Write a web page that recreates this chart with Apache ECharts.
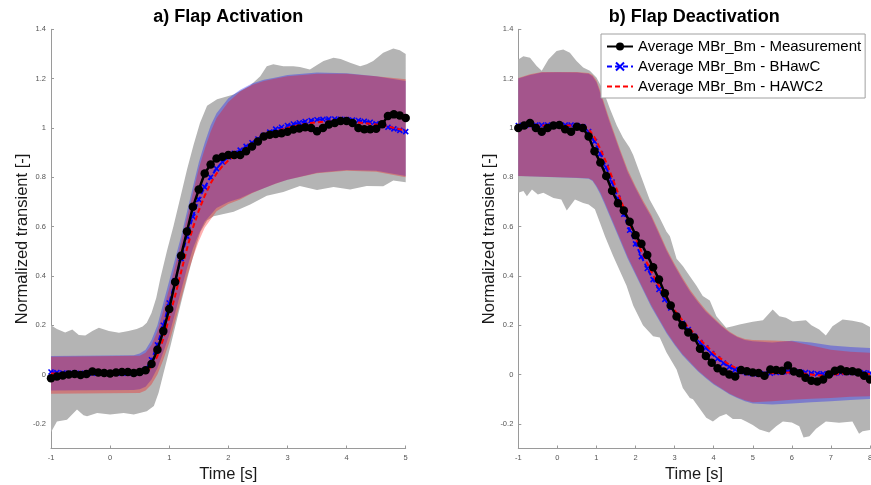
<!DOCTYPE html>
<html>
<head>
<meta charset="utf-8">
<script src="https://cdn.jsdelivr.net/npm/echarts@6/dist/echarts.min.js"></script>
<style>html,body{margin:0;padding:0;background:#fff}#c{width:871px;height:485px}</style>
</head>
<body>
<div id="c"></div>
<script>
// ---------- DATA ----------
const titles = ['a) Flap Activation', 'b) Flap Deactivation'];
const legendNames = ['Average MBr_Bm - Measurement', 'Average MBr_Bm - BHawC', 'Average MBr_Bm - HAWC2'];
const yTicks = [-0.2, 0, 0.2, 0.4, 0.6, 0.8, 1, 1.2, 1.4];

// a) activation: time grid (s)
const timeA = [-1.0,-0.9,-0.8,-0.7,-0.6,-0.5,-0.4,-0.3,-0.2,-0.1,0.0,0.1,0.2,0.3,0.4,0.5,0.6,0.7,0.8,0.9,1.0,1.1,1.2,1.3,1.4,1.5,1.6,1.7,1.8,1.9,2.0,2.1,2.2,2.3,2.4,2.5,2.6,2.7,2.8,2.9,3.0,3.1,3.2,3.3,3.4,3.5,3.6,3.7,3.8,3.9,4.0,4.1,4.2,4.3,4.4,4.5,4.6,4.7,4.8,4.9,5.0];
const measA = [-0.015,-0.008,-0.004,0.0,0.002,-0.002,0.002,0.012,0.008,0.006,0.004,0.008,0.01,0.01,0.006,0.01,0.017,0.043,0.1,0.176,0.266,0.375,0.482,0.58,0.68,0.75,0.815,0.852,0.876,0.883,0.89,0.89,0.89,0.905,0.925,0.945,0.965,0.972,0.975,0.978,0.985,0.994,0.998,1.003,1.0,0.987,1.0,1.014,1.02,1.028,1.028,1.02,1.0,0.995,0.995,0.997,1.015,1.048,1.055,1.05,1.04];
const bhawcA = [0.01,0.008,0.006,0.005,0.005,0.005,0.005,0.005,0.005,0.005,0.005,0.005,0.005,0.005,0.005,0.008,0.02,0.06,0.12,0.2,0.29,0.38,0.47,0.56,0.64,0.71,0.76,0.8,0.835,0.862,0.882,0.897,0.91,0.925,0.94,0.955,0.97,0.983,0.995,1.003,1.01,1.016,1.021,1.026,1.03,1.033,1.035,1.036,1.036,1.035,1.034,1.032,1.03,1.027,1.023,1.017,1.01,1.003,0.996,0.99,0.985];
const hawc2A = [0.004,0.004,0.004,0.004,0.004,0.004,0.004,0.004,0.004,0.004,0.004,0.004,0.004,0.004,0.004,0.005,0.01,0.03,0.075,0.145,0.23,0.32,0.415,0.51,0.595,0.665,0.725,0.775,0.815,0.845,0.868,0.885,0.9,0.915,0.93,0.945,0.96,0.973,0.985,0.994,1.0,1.006,1.011,1.016,1.02,1.023,1.025,1.026,1.026,1.026,1.025,1.024,1.022,1.02,1.017,1.014,1.01,1.006,1.0,0.995,0.99];
// std bands [t, value]
const measUpA = [[-1,0.2],[-0.9,0.185],[-0.76,0.17],[-0.64,0.183],[-0.53,0.16],[-0.42,0.158],[-0.3,0.176],[-0.19,0.19],[-0.02,0.176],[0.15,0.169],[0.31,0.176],[0.45,0.185],[0.55,0.195],[0.62,0.21],[0.7,0.25],[0.78,0.31],[0.85,0.39],[0.96,0.5],[1.07,0.6],[1.19,0.72],[1.3,0.83],[1.41,0.93],[1.52,1.02],[1.64,1.09],[1.81,1.116],[2.09,1.136],[2.37,1.172],[2.54,1.21],[2.65,1.25],[2.76,1.258],[2.93,1.25],[3.1,1.25],[3.21,1.247],[3.38,1.237],[3.5,1.255],[3.61,1.271],[3.78,1.285],[3.9,1.28],[4.06,1.264],[4.23,1.25],[4.34,1.258],[4.45,1.271],[4.62,1.305],[4.79,1.322],[4.9,1.315],[5,1.3]];
const measLoA = [[-1,-0.234],[-0.9,-0.19],[-0.73,-0.183],[-0.56,-0.142],[-0.45,-0.165],[-0.39,-0.169],[-0.22,-0.156],[0,-0.162],[0.23,-0.156],[0.4,-0.162],[0.62,-0.149],[0.74,-0.128],[0.82,-0.074],[0.905,0.007],[1.02,0.115],[1.13,0.223],[1.24,0.33],[1.36,0.44],[1.47,0.534],[1.53,0.58],[1.64,0.625],[1.75,0.642],[2.09,0.66],[2.37,0.69],[2.65,0.725],[2.93,0.74],[3.21,0.765],[3.5,0.748],[3.78,0.76],[4.06,0.75],[4.34,0.765],[4.62,0.764],[4.79,0.787],[5,0.78]];
const bhawcUpA = [[-1,0.075],[0.4,0.078],[0.5,0.085],[0.6,0.1],[0.7,0.14],[0.8,0.2],[0.9,0.29],[1.0,0.38],[1.1,0.47],[1.2,0.56],[1.3,0.66],[1.4,0.76],[1.5,0.86],[1.6,0.94],[1.7,1.01],[1.8,1.06],[2.0,1.12],[2.2,1.155],[2.4,1.18],[2.6,1.195],[2.8,1.205],[3.0,1.215],[3.5,1.225],[4.0,1.222],[4.5,1.21],[5.0,1.19]];
const bhawcLoA = [[-1,-0.065],[0.4,-0.063],[0.5,-0.06],[0.6,-0.05],[0.7,-0.02],[0.8,0.025],[0.9,0.09],[1.0,0.16],[1.1,0.25],[1.2,0.34],[1.3,0.43],[1.4,0.51],[1.5,0.57],[1.6,0.62],[1.8,0.675],[2.0,0.7],[2.2,0.715],[2.4,0.737],[2.6,0.755],[2.8,0.775],[3.0,0.79],[3.5,0.818],[4.0,0.829],[4.5,0.826],[5.0,0.805]];
const hawc2UpA = [[-1,0.072],[0.5,0.076],[0.6,0.088],[0.7,0.12],[0.8,0.175],[0.9,0.26],[1.0,0.35],[1.1,0.44],[1.2,0.535],[1.3,0.635],[1.4,0.735],[1.5,0.835],[1.6,0.915],[1.7,0.985],[1.8,1.04],[2.0,1.105],[2.2,1.148],[2.4,1.174],[2.6,1.19],[2.8,1.2],[3.0,1.21],[3.5,1.22],[4.0,1.22],[4.5,1.21],[5.0,1.197]];
const hawc2LoA = [[-1,-0.078],[0.5,-0.075],[0.6,-0.065],[0.7,-0.04],[0.8,0.0],[0.9,0.06],[1.0,0.13],[1.1,0.215],[1.2,0.305],[1.3,0.395],[1.4,0.475],[1.5,0.54],[1.6,0.595],[1.8,0.662],[2.0,0.692],[2.2,0.71],[2.4,0.735],[2.6,0.755],[2.8,0.774],[3.0,0.79],[3.5,0.816],[4.0,0.826],[4.5,0.822],[5.0,0.8]];

// b) deactivation
const timeB = [-1.0,-0.85,-0.7,-0.55,-0.4,-0.25,-0.1,0.05,0.2,0.35,0.5,0.65,0.8,0.95,1.1,1.25,1.4,1.55,1.7,1.85,2.0,2.15,2.3,2.45,2.6,2.75,2.9,3.05,3.2,3.35,3.5,3.65,3.8,3.95,4.1,4.25,4.4,4.55,4.7,4.85,5.0,5.15,5.3,5.45,5.6,5.75,5.9,6.05,6.2,6.35,6.5,6.65,6.8,6.95,7.1,7.25,7.4,7.55,7.7,7.85,8.0];
const measB = [1.0,1.01,1.02,1.0,0.985,1.0,1.01,1.012,0.995,0.985,1.005,1.0,0.965,0.905,0.86,0.805,0.745,0.695,0.665,0.62,0.565,0.53,0.485,0.435,0.385,0.33,0.28,0.235,0.2,0.17,0.15,0.105,0.075,0.048,0.025,0.012,0.0,-0.008,0.018,0.013,0.008,0.006,-0.005,0.02,0.018,0.015,0.037,0.012,0.005,-0.013,-0.025,-0.028,-0.02,0.0,0.015,0.02,0.013,0.013,0.008,-0.005,-0.02];
const bhawcB = [1.01,1.01,1.012,1.012,1.012,1.012,1.012,1.012,1.012,1.012,1.01,1.005,0.985,0.945,0.895,0.84,0.78,0.715,0.65,0.585,0.53,0.478,0.43,0.385,0.345,0.305,0.27,0.238,0.208,0.182,0.155,0.13,0.108,0.085,0.064,0.046,0.031,0.02,0.012,0.006,0.003,0.002,0.003,0.005,0.008,0.01,0.012,0.012,0.01,0.008,0.005,0.003,0.003,0.003,0.005,0.007,0.008,0.008,0.008,0.007,0.006];
const hawc2B = [1.01,1.01,1.01,1.01,1.01,1.01,1.01,1.01,1.01,1.01,1.01,1.008,0.995,0.962,0.915,0.86,0.8,0.738,0.675,0.612,0.555,0.5,0.45,0.403,0.36,0.32,0.283,0.25,0.22,0.192,0.166,0.142,0.118,0.095,0.074,0.056,0.04,0.028,0.018,0.012,0.008,0.006,0.005,0.005,0.006,0.007,0.008,0.008,0.006,0.003,0.0,-0.003,-0.004,-0.003,0.0,0.003,0.004,0.004,0.004,0.003,0.002];
const measUpB = [[-1,1.278],[-0.87,1.291],[-0.7,1.285],[-0.53,1.251],[-0.4,1.232],[-0.23,1.278],[-0.02,1.312],[0.15,1.318],[0.32,1.305],[0.49,1.271],[0.66,1.245],[0.83,1.232],[1.0,1.205],[1.1,1.175],[1.2,1.14],[1.34,1.08],[1.52,1.01],[1.68,0.96],[1.85,0.92],[1.94,0.89],[2.15,0.8],[2.36,0.71],[2.62,0.635],[2.79,0.58],[2.88,0.561],[3.05,0.47],[3.21,0.44],[3.39,0.399],[3.56,0.36],[3.72,0.318],[3.9,0.3],[4.07,0.236],[4.32,0.19],[4.49,0.196],[4.66,0.203],[5.0,0.214],[5.26,0.22],[5.51,0.264],[5.68,0.236],[5.85,0.23],[6.02,0.215],[6.36,0.22],[6.5,0.2],[6.7,0.183],[6.87,0.158],[7.04,0.196],[7.3,0.223],[7.55,0.218],[7.8,0.21],[8,0.193]];
const measLoB = [[-1,0.737],[-0.87,0.744],[-0.78,0.723],[-0.65,0.75],[-0.5,0.73],[-0.36,0.737],[-0.1,0.716],[0.1,0.71],[0.24,0.665],[0.45,0.71],[0.66,0.696],[0.8,0.69],[0.96,0.67],[1.09,0.615],[1.22,0.56],[1.43,0.48],[1.6,0.42],[1.77,0.36],[1.94,0.28],[2.19,0.2],[2.45,0.155],[2.62,0.15],[2.79,0.09],[3.05,0.02],[3.21,-0.055],[3.39,-0.095],[3.47,-0.1],[3.65,-0.14],[3.81,-0.175],[3.98,-0.19],[4.15,-0.17],[4.32,-0.16],[4.49,-0.18],[4.7,-0.18],[4.83,-0.19],[5.0,-0.205],[5.17,-0.223],[5.42,-0.235],[5.6,-0.21],[5.77,-0.19],[6.0,-0.195],[6.19,-0.21],[6.3,-0.255],[6.45,-0.25],[6.62,-0.22],[6.87,-0.19],[7.21,-0.196],[7.55,-0.19],[7.72,-0.24],[7.81,-0.23],[8,-0.225]];
const bhawcUpB = [[-1,1.2],[-0.7,1.215],[-0.4,1.225],[0,1.226],[0.5,1.225],[0.8,1.22],[0.9,1.21],[1.0,1.185],[1.1,1.14],[1.2,1.09],[1.3,1.04],[1.4,0.995],[1.6,0.905],[1.8,0.82],[2.0,0.755],[2.2,0.695],[2.4,0.64],[2.6,0.57],[2.8,0.5],[3.0,0.44],[3.2,0.385],[3.4,0.335],[3.6,0.293],[3.8,0.255],[4.0,0.225],[4.2,0.196],[4.4,0.17],[4.6,0.152],[4.8,0.14],[5.0,0.135],[5.5,0.13],[6.0,0.137],[6.5,0.13],[7.0,0.118],[7.5,0.112],[8.0,0.108]];
const bhawcLoB = [[-1,0.805],[0.5,0.797],[0.8,0.794],[0.9,0.785],[1.0,0.76],[1.1,0.73],[1.2,0.695],[1.4,0.62],[1.6,0.545],[1.8,0.47],[2.0,0.405],[2.2,0.34],[2.4,0.275],[2.6,0.22],[2.8,0.165],[3.0,0.12],[3.2,0.078],[3.4,0.045],[3.6,0.012],[3.8,-0.015],[4.0,-0.04],[4.2,-0.06],[4.4,-0.08],[4.6,-0.095],[4.8,-0.108],[5.0,-0.118],[5.5,-0.122],[6.0,-0.118],[6.5,-0.112],[7.0,-0.108],[7.5,-0.103],[8.0,-0.099]];
const hawc2UpB = [[-1,1.203],[-0.7,1.218],[-0.4,1.227],[0,1.227],[0.5,1.227],[0.8,1.223],[0.9,1.215],[1.0,1.193],[1.1,1.15],[1.2,1.1],[1.3,1.05],[1.4,1.005],[1.6,0.915],[1.8,0.83],[2.0,0.764],[2.2,0.704],[2.4,0.648],[2.6,0.579],[2.8,0.508],[3.0,0.448],[3.2,0.393],[3.4,0.343],[3.6,0.3],[3.8,0.262],[4.0,0.23],[4.2,0.2],[4.4,0.174],[4.6,0.155],[4.8,0.144],[5.0,0.14],[5.5,0.138],[6.0,0.135],[6.5,0.118],[7.0,0.1],[7.5,0.092],[8.0,0.088]];
const hawc2LoB = [[-1,0.805],[0.5,0.798],[0.8,0.796],[0.9,0.788],[1.0,0.766],[1.1,0.738],[1.2,0.703],[1.4,0.628],[1.6,0.553],[1.8,0.478],[2.0,0.412],[2.2,0.346],[2.4,0.282],[2.6,0.226],[2.8,0.171],[3.0,0.125],[3.2,0.083],[3.4,0.05],[3.6,0.016],[3.8,-0.011],[4.0,-0.036],[4.2,-0.057],[4.4,-0.077],[4.6,-0.092],[4.8,-0.104],[5.0,-0.112],[5.5,-0.108],[6.0,-0.102],[6.5,-0.098],[7.0,-0.095],[7.5,-0.09],[8.0,-0.088]];

// ---------- CHART ----------
const FONT = '"Liberation Sans", Arial, Helvetica, sans-serif';
const chart = echarts.init(document.getElementById('c'), null, {renderer: 'canvas'});
const zip = (t, v) => t.map((x, i) => [x, v[i]]);

function band(idx, up, lo, fill, z) {
  const poly = up.concat(lo.slice().reverse());
  return {
    type: 'custom', xAxisIndex: idx, yAxisIndex: idx, silent: true, z: z,
    data: poly, encode: {x: 0, y: 1},
    renderItem: function (params, api) {
      if (params.dataIndex !== 0) return null;
      return {type: 'polygon', shape: {points: poly.map(p => api.coord(p))}, style: {fill: fill}};
    }
  };
}
const xSym = 'path://M0,0L10,10M10,0L0,10';
function lines(idx, t, m, b, h) {
  return [
    {name: legendNames[1], type: 'line', xAxisIndex: idx, yAxisIndex: idx, data: zip(t, b), z: 5,
     symbol: xSym, symbolSize: 5, showAllSymbol: true,
     itemStyle: {color: '#0000ff', borderColor: '#0000ff', borderWidth: 1.6},
     lineStyle: {color: '#0000ff', width: 2, type: [5, 3]}},
    {name: legendNames[2], type: 'line', xAxisIndex: idx, yAxisIndex: idx, data: zip(t, h), z: 6,
     symbol: 'none', itemStyle: {color: '#ff0000'},
     lineStyle: {color: '#ff0000', width: 2, type: [5, 3]}},
    {name: legendNames[0], type: 'line', xAxisIndex: idx, yAxisIndex: idx, data: zip(t, m), z: 7,
     symbol: 'circle', symbolSize: 8.5, showAllSymbol: true,
     itemStyle: {color: '#000'}, lineStyle: {color: '#000', width: 2.5}}
  ];
}
function xAx(idx, max) {
  return {type: 'value', gridIndex: idx, min: -1, max: max, interval: 1,
    name: 'Time [s]', nameLocation: 'middle', nameGap: 17, nameMoveOverlap: false,
    nameTextStyle: {fontFamily: FONT, fontSize: 16.5, color: '#1a1a1a'},
    axisLine: {show: true, onZero: false, lineStyle: {color: '#9a9a9a', width: 1}},
    axisTick: {show: true, inside: true, length: 3, lineStyle: {color: '#9a9a9a'}},
    axisLabel: {fontFamily: FONT, fontSize: 7.5, color: '#555', margin: 5},
    splitLine: {show: false}};
}
function yAx(idx) {
  return {type: 'value', gridIndex: idx, min: -0.3, max: 1.4,
    name: 'Normalized transient [-]', nameLocation: 'middle', nameGap: 20, nameRotate: 90, nameMoveOverlap: false,
    nameTextStyle: {fontFamily: FONT, fontSize: 16.5, color: '#1a1a1a'},
    axisLine: {show: true, onZero: false, lineStyle: {color: '#9a9a9a', width: 1}},
    axisTick: {show: true, inside: true, length: 3, lineStyle: {color: '#9a9a9a'}, customValues: yTicks},
    axisLabel: {fontFamily: FONT, fontSize: 7.5, color: '#555', margin: 5, customValues: yTicks},
    splitLine: {show: false}};
}

const option = {
  animation: false,
  backgroundColor: '#fff',
  grid: [
    {left: 51, top: 29.3, width: 354.7, height: 419.2, outerBoundsMode: 'none', containLabel: false},
    {left: 518.3, top: 29.3, width: 351.7, height: 419.2, outerBoundsMode: 'none', containLabel: false}
  ],
  xAxis: [xAx(0, 5), xAx(1, 8)],
  yAxis: [yAx(0), yAx(1)],
  graphic: [
    {type: 'text', x: 228.3, y: 8, z: 100, style: {text: titles[0], textAlign: 'center', textVerticalAlign: 'top', font: 'bold 18px ' + FONT, fill: '#000'}},
    {type: 'text', x: 694.2, y: 8, z: 100, style: {text: titles[1], textAlign: 'center', textVerticalAlign: 'top', font: 'bold 18px ' + FONT, fill: '#000'}}
  ],
  legend: {
    data: [
      {name: legendNames[0]},
      {name: legendNames[1]},
      {name: legendNames[2], itemStyle: {opacity: 0}}
    ],
    orient: 'vertical', left: 601, top: 34,
    backgroundColor: '#fff', borderColor: '#a0a0a0', borderWidth: 1,
    padding: [5, 4, 4, 5], itemGap: 5, itemWidth: 26, itemHeight: 10,
    textStyle: {fontFamily: FONT, fontSize: 15, color: '#000'},
    selectedMode: false
  },
  series: [
    band(0, measUpA, measLoA, '#b4b4b4', 1),
    band(0, bhawcUpA, bhawcLoA, 'rgba(0,0,255,0.31)', 2),
    band(0, hawc2UpA, hawc2LoA, 'rgba(255,0,0,0.31)', 3),
    band(1, measUpB, measLoB, '#b4b4b4', 1),
    band(1, bhawcUpB, bhawcLoB, 'rgba(0,0,255,0.31)', 2),
    band(1, hawc2UpB, hawc2LoB, 'rgba(255,0,0,0.31)', 3)
  ].concat(lines(0, timeA, measA, bhawcA, hawc2A), lines(1, timeB, measB, bhawcB, hawc2B))
};
chart.setOption(option);
</script>
</body>
</html>
